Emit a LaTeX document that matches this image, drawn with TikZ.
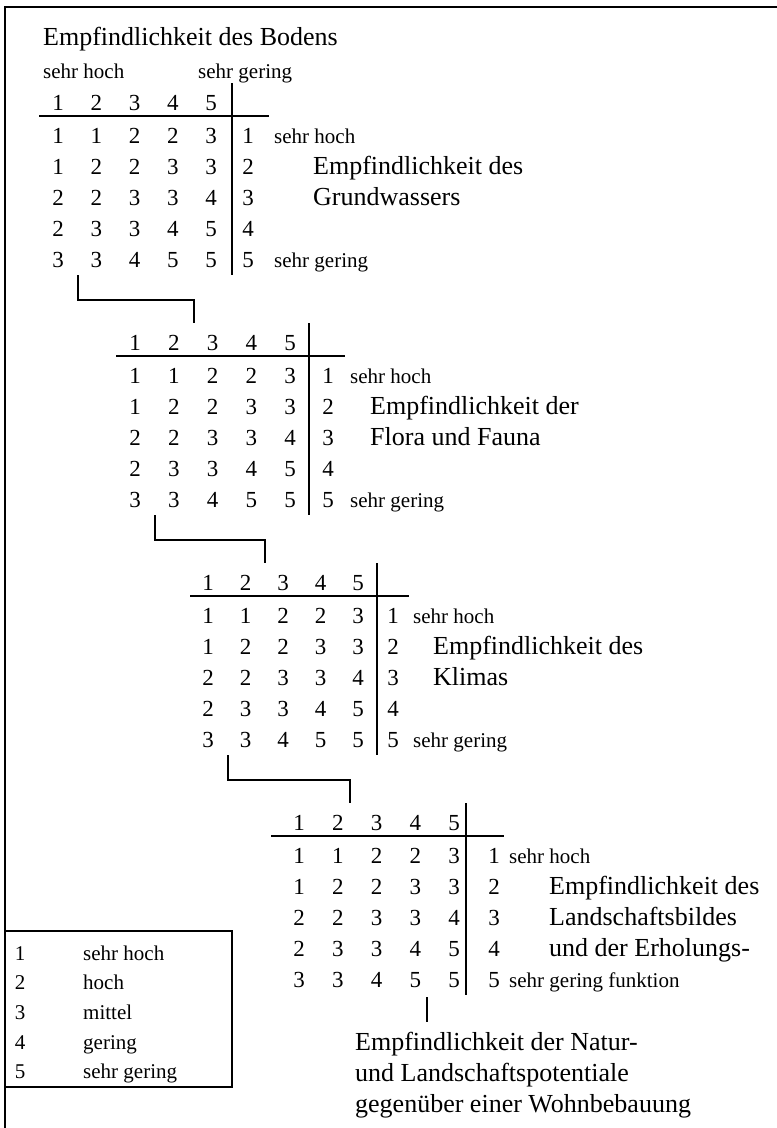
\documentclass[tikz,border=0pt]{standalone}
\usepackage{fontspec}
\setmainfont{Liberation Serif}
\begin{document}
\begin{tikzpicture}[x=1bp,y=-1bp,
  dig/.style={font=\fontsize{23bp}{23bp}\selectfont, inner sep=0pt, anchor=base},
  sm/.style={font=\fontsize{21bp}{21bp}\selectfont, inner sep=0pt, anchor=base west},
  smc/.style={font=\fontsize{21bp}{21bp}\selectfont, inner sep=0pt, anchor=base},
  bg/.style={font=\fontsize{26bp}{26bp}\selectfont, inner sep=0pt, anchor=base west},
  ln/.style={line width=2bp},
  frame/.style={line width=2.5bp}]
\useasboundingbox (0,0) rectangle (777,1128);
% frame (top and left edge)
\coordinate (fbl) at (5,1128);
\coordinate (ftl) at (5,7);
\coordinate (ftr) at (777,7);
\draw[frame] (fbl) -- (ftl) -- (ftr);

\newcommand\DrawTable[8]{%
  % #1 prefix, #2 dy, #3 col1 x, #4 pitch, #5 vline x, #6 right digit x, #7 hline x1, #8 hline x2
  \foreach \j in {1,...,5} {
    \node[dig] (#1h\j) at ({#3+(\j-1)*#4},{110+#2}) {\j};
  }
  \foreach \r/\a/\b/\c/\d/\e in {1/1/1/2/2/3,2/1/2/2/3/3,3/2/2/3/3/4,4/2/3/3/4/5,5/3/3/4/5/5} {
    \node[dig] (#1r\r a) at ({#3},{143+(\r-1)*31+#2}) {\a};
    \node[dig] (#1r\r b) at ({#3+#4},{143+(\r-1)*31+#2}) {\b};
    \node[dig] (#1r\r c) at ({#3+2*#4},{143+(\r-1)*31+#2}) {\c};
    \node[dig] (#1r\r d) at ({#3+3*#4},{143+(\r-1)*31+#2}) {\d};
    \node[dig] (#1r\r e) at ({#3+4*#4},{143+(\r-1)*31+#2}) {\e};
    \node[dig] (#1k\r) at ({#6},{143+(\r-1)*31+#2}) {\r};
  }
  \coordinate (#1vt) at ({#5},{83+#2});
  \coordinate (#1vb) at ({#5},{275+#2});
  \coordinate (#1hl) at ({#7},{116+#2});
  \coordinate (#1hr) at ({#8},{116+#2});
  \draw[ln] (#1vt) -- (#1vb);
  \draw[ln] (#1hl) -- (#1hr);
}

% Table 1
\node[bg] (title) at (43,45) {Empfindlichkeit des Bodens};
\node[sm] (top1) at (43,78) {sehr hoch};
\node[sm] (top5) at (198,78) {sehr gering};
\DrawTable{A}{0}{58}{38.3}{232}{248}{39}{269}
\node[sm] (A1) at (274,143) {sehr hoch};
\node[bg] (A2) at (313,174) {Empfindlichkeit des};
\node[bg] (A3) at (313,205) {Grundwassers};
\node[sm] (A5) at (274,267) {sehr gering};

% Table 2
\DrawTable{B}{240}{135}{38.75}{309}{328}{116}{345}
\node[sm] (B1) at (350,383) {sehr hoch};
\node[bg] (B2) at (370,414) {Empfindlichkeit der};
\node[bg] (B3) at (370,445) {Flora und Fauna};
\node[sm] (B5) at (350,507) {sehr gering};

% Table 3
\DrawTable{C}{480}{208}{37.5}{377}{393}{190}{409}
\node[sm] (C1) at (413,623) {sehr hoch};
\node[bg] (C2) at (433,654) {Empfindlichkeit des};
\node[bg] (C3) at (433,685) {Klimas};
\node[sm] (C5) at (413,747) {sehr gering};

% Table 4
\DrawTable{D}{720}{299}{38.75}{466}{494}{271}{504}
\node[sm] (D1) at (509,863) {sehr hoch};
\node[bg] (D2) at (549,894) {Empfindlichkeit des};
\node[bg] (D3) at (549,925) {Landschaftsbildes};
\node[bg] (D4) at (549,956) {und der Erholungs-};
\node[sm] (D5) at (509,987) {sehr gering funktion};

% connectors
\coordinate (c1s) at (78,275);  \coordinate (c1e) at (194,323);
\coordinate (c2s) at (155,515); \coordinate (c2e) at (265,563);
\coordinate (c3s) at (228,755); \coordinate (c3e) at (350,803);
\coordinate (c4s) at (427,997); \coordinate (c4e) at (427,1022);
\draw[ln] (c1s) -- ++(0,25) -| (c1e);
\draw[ln] (c2s) -- ++(0,25) -| (c2e);
\draw[ln] (c3s) -- ++(0,25) -| (c3e);
\draw[ln] (c4s) -- (c4e);

% result
\node[bg] (R1) at (355,1050) {Empfindlichkeit der Natur-};
\node[bg] (R2) at (355,1081) {und Landschaftspotentiale};
\node[bg] (R3) at (355,1112) {gegenüber einer Wohnbebauung};

% legend
\coordinate (L1) at (5,931);
\coordinate (L2) at (232,1087);
\draw[ln] (L1) rectangle (L2);
\foreach \i/\t [count=\n from 0] in {1/sehr hoch,2/hoch,3/mittel,4/gering,5/sehr gering} {
  \node[smc] (Ln\i) at (20,{960+\n*29.7}) {\i};
  \node[sm] (Lt\i) at (83,{960+\n*29.7}) {\t};
}
\end{tikzpicture}
\end{document}
